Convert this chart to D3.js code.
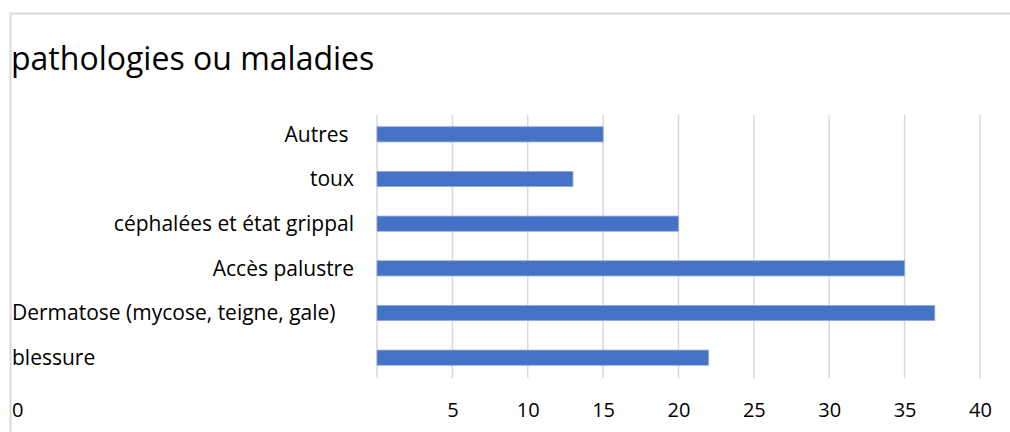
<!DOCTYPE html>
<html>
<head>
<meta charset="utf-8">
<style>
  body { margin: 0; background: #fff; }
  text { font-family: "Open Sans", "Noto Sans", sans-serif; fill: #000; }
</style>
</head>
<body>
<svg id="chart" width="1010" height="432"></svg>
<script src="https://d3js.org/d3.v7.min.js"></script>
<script>
  // data, top to bottom as drawn
  var categories = ["Autres ", "toux", "céphalées et état grippal", "Accès palustre", "Dermatose (mycose, teigne, gale)", "blessure"];
  var values = [15, 13, 20, 35, 37, 22];
  var tickValues = [0, 5, 10, 15, 20, 25, 30, 35, 40];
  var title = "pathologies ou maladies";

  var svg = d3.select("#chart");

  // frame (only top and left edges show)
  svg.append("path")
      .attr("d", "M10.5,432 V13.5 H1010")
      .attr("fill", "none")
      .attr("stroke", "#d9d9d9")
      .attr("stroke-width", 2);

  svg.append("text")
      .attr("x", 11)
      .attr("y", 70)
      .attr("font-size", 32)
      .text(title);

  var x = d3.scaleLinear().domain([0, 40]).range([377, 980]);
  var y = d3.scaleBand()
      .domain(categories)
      .range([112, 380])
      .paddingInner(0.66)
      .paddingOuter(0.33);

  // vertical gridlines
  svg.append("g").selectAll("line")
      .data(tickValues)
    .enter().append("line")
      .attr("x1", function(d) { return x(d); })
      .attr("x2", function(d) { return x(d); })
      .attr("y1", 115)
      .attr("y2", 378)
      .attr("stroke", "#d9d9d9")
      .attr("stroke-width", 1.5);

  // bars
  svg.append("g").selectAll("rect")
      .data(values)
    .enter().append("rect")
      .attr("x", x(0))
      .attr("y", function(d, i) { return y(categories[i]); })
      .attr("width", function(d) { return x(d) - x(0); })
      .attr("height", y.bandwidth())
      .attr("fill", "#4472c4")
      .attr("stroke", "#8faadc")
      .attr("stroke-width", 0.8);

  // category labels - the last two sit against the left edge in the original
  var leftAligned = ["Dermatose (mycose, teigne, gale)", "blessure"];
  svg.append("g").selectAll("text")
      .data(categories)
    .enter().append("text")
      .attr("x", function(d) { return leftAligned.indexOf(d) >= 0 ? 12 : 354; })
      .attr("y", function(d) { return y(d) + y.bandwidth() / 2; })
      .attr("dy", "0.35em")
      .attr("font-size", 21)
      .attr("text-anchor", function(d) { return leftAligned.indexOf(d) >= 0 ? "start" : "end"; })
      .style("white-space", "pre")
      .text(function(d) { return d; });

  // bottom axis
  var axis = svg.append("g")
      .attr("transform", "translate(0,410)")
      .call(d3.axisBottom(x).tickValues(tickValues).tickSize(0).tickPadding(0));
  axis.select(".domain").remove();
  axis.selectAll("text")
      .attr("font-size", 20)
      .attr("font-family", "Open Sans")
      .attr("dy", "0.35em")
      .attr("y", 0);
  // the zero label is pushed to the far left in the original
  axis.selectAll(".tick").filter(function(d) { return d === 0; })
      .attr("transform", "translate(12,0)")
    .select("text")
      .attr("text-anchor", "start");
</script>
</body>
</html>
